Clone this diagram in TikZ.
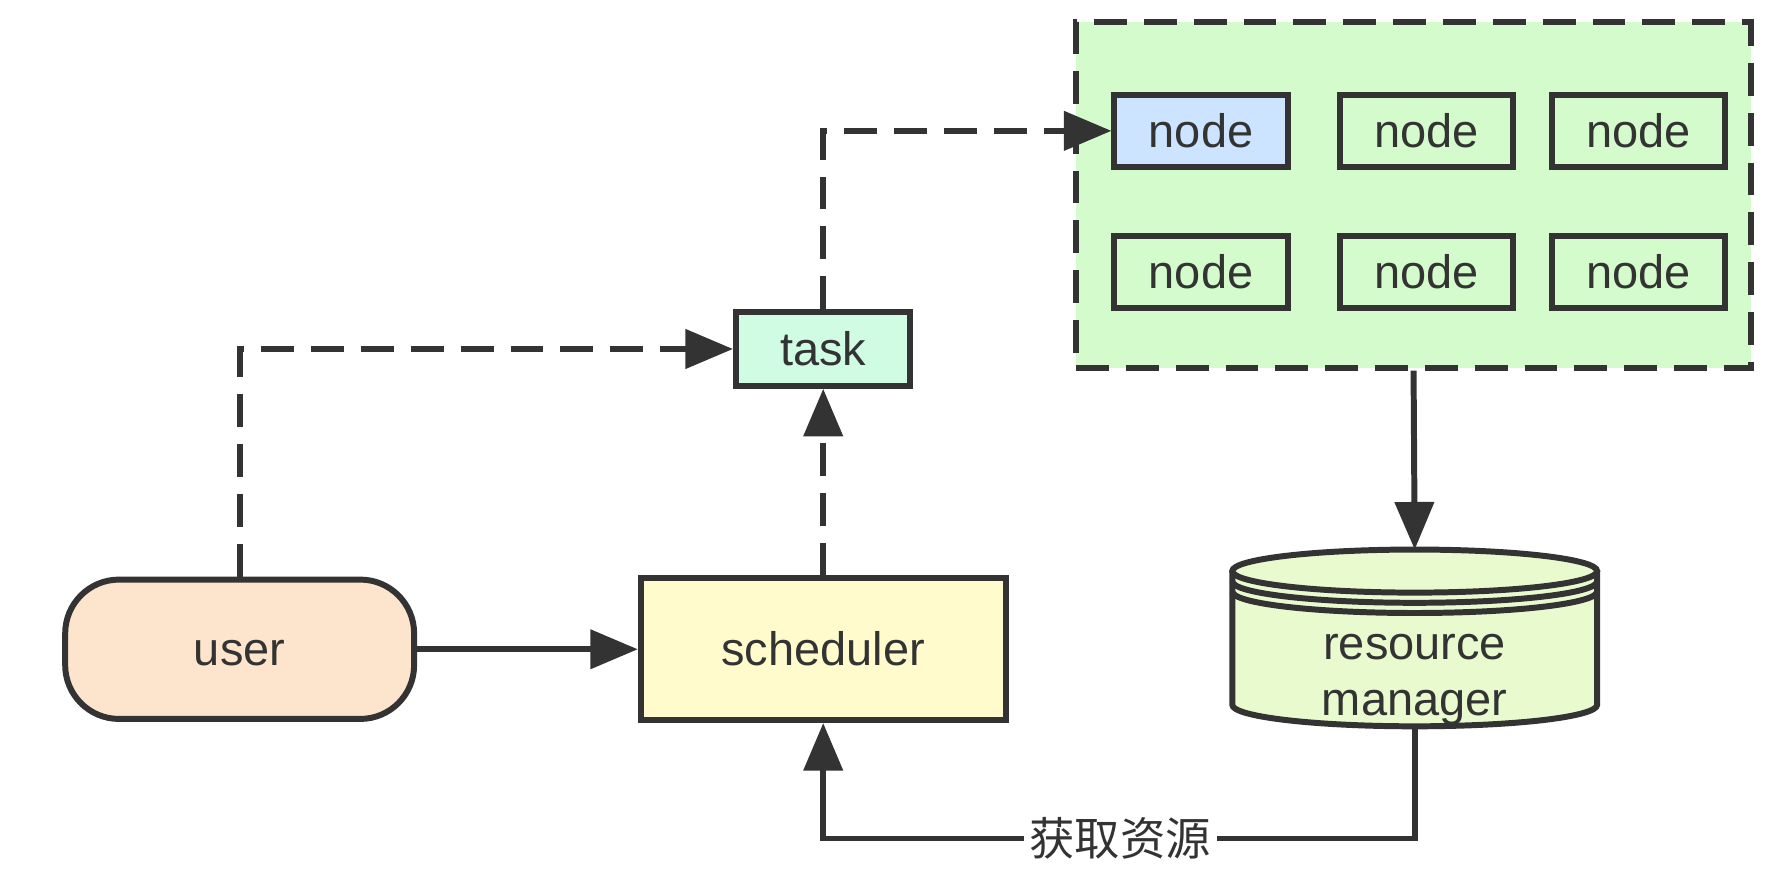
\documentclass[tikz,border=0pt]{standalone}
\usepackage{fontspec}
\setmainfont{Liberation Sans}
\newfontfamily\cjk{Noto Sans CJK SC}
\usetikzlibrary{arrows.meta}
\definecolor{linec}{HTML}{333333}
\definecolor{groupc}{HTML}{D4FBCC}
\definecolor{bluec}{HTML}{CCE4FF}
\definecolor{taskc}{HTML}{D0FCE4}
\definecolor{userc}{HTML}{FDE4CC}
\definecolor{schedc}{HTML}{FFFBCC}
\definecolor{dbc}{HTML}{E8FACE}

\begin{document}
\begin{tikzpicture}[x=0.02cm,y=0.02cm,
	every node/.style={font=\fontsize{23.6pt}{28.45pt}\selectfont,text=linec},
	box/.style={draw=linec,line width=3pt,inner sep=0pt,text height=16.5pt,text depth=0pt},
	worker/.style={box,fill=groupc,minimum width=3.06cm,minimum height=1.28cm},
	arr/.style={draw=linec,line width=3pt,-{Triangle[length=0.84cm,width=0.68cm]}},
	darr/.style={arr,dash pattern=on 0.58cm off 0.3cm}]
	\useasboundingbox (0,0) rectangle (1570,773);
	\node[box,fill=groupc,dash pattern=on 0.58cm off 0.3cm,minimum width=11.92cm,minimum height=6.1cm] (cluster) at (1247.5,601) {};
	\node[worker,fill=bluec] (n1) at (1060,657.5) {node};
	\node[worker] (n2) at (1259,657.5) {node};
	\node[worker] (n3) at (1446,657.5) {node};
	\node[worker] (n4) at (1060,533) {node};
	\node[worker] (n5) at (1259,533) {node};
	\node[worker] (n6) at (1446,533) {node};
	\node[box,fill=taskc,minimum width=3.08cm,minimum height=1.3cm] (task) at (726.5,465) {task};
	\node[box,fill=userc,rounded corners=0.95cm,minimum width=6.16cm,minimum height=2.46cm] (user) at (211.5,200) {user};
	\node[box,fill=schedc,minimum width=6.44cm,minimum height=2.5cm] (sched) at (726.5,200) {scheduler};
	\fill[dbc] (1087.5,269) -- (1087.5,151) arc[start angle=180,end angle=360,x radius=161,y radius=19]
		-- (1409.5,269) arc[start angle=0,end angle=180,x radius=161,y radius=19] -- cycle;
	\draw[linec,line width=3pt] (1087.5,269) -- (1087.5,151) arc[start angle=180,end angle=360,x radius=161,y radius=19] -- (1409.5,269);
	\draw[linec,line width=3pt] (1248.5,269) ellipse[x radius=161,y radius=19];
	\draw[linec,line width=3pt] (1087.5,260) arc[start angle=180,end angle=360,x radius=161,y radius=19];
	\draw[linec,line width=3pt] (1087.5,251) arc[start angle=180,end angle=360,x radius=161,y radius=19];
	\node[align=center] (rm) at (1248.5,173) {resource\\manager};
	\coordinate (rmtop) at (1248.5,288);
	\coordinate (rmbot) at (1248.5,132);
	\coordinate (fetch) at (988.5,33);
	\draw[arr] (user) -- (sched);
	\draw[darr] (user.north) |- (task.west);
	\draw[darr] (sched.north) -- (task.south);
	\draw[darr] (task.north) |- (n1.west);
	\draw[arr] (cluster.south) -- (rmtop);
	\draw[arr] (rmbot) |- (fetch) node[fill=white,inner xsep=0.1cm,inner ysep=0pt,font=\cjk\fontsize{22.8pt}{24pt}\selectfont] {获取资源} -| (sched.south);
\end{tikzpicture}
\end{document}
